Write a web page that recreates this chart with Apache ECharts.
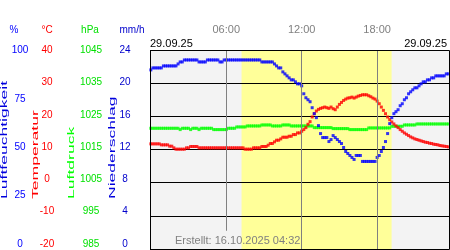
<!DOCTYPE html>
<html><head><meta charset="utf-8">
<script src="https://cdn.jsdelivr.net/npm/echarts@6/dist/echarts.min.js"></script>
<style>html,body{margin:0;padding:0;background:#fff}#c{width:450px;height:250px}</style>
</head><body><div id="c"></div>
<script>
// 10-minute measurements, 29.09.25, 00:00 .. 23:40
const humidity = [90,91,91,91,91,91,92,92,92,92,92,92,92,93,94,94,95,95,95,95,95,95,95,94,94,94,94,95,95,95,95,95,95,94,94,
95,95,95,95,95,95,95,95,95,95,95,95,95,95,95,95,95,95,94,94,94,94,94,94,93,92,91,91,
89,88,87,86,85,85,84,83,83,82,78,76,75,74,71,68,66,62,58,56,56,56,
54,55,57,56,55,54,53,51,49,48,47,46,45,47,47,47,44,44,44,44,44,44,44,
46,47,49,51,54,58,63,66,68,69,70,72,73,75,76,78,79,80,81,81,82,83,84,84,85,85,86,86,87,87,87,87,87,88,88];
const temperature = [11.7,11.7,11.7,11.7,11.7,11.4,11.4,11.4,11.4,11.0,11.0,10.5,10.1,10.1,10.1,10.1,10.1,10.5,10.5,
10.9,10.9,10.9,10.9,10.5,10.5,10.5,10.5,10.5,10.5,10.5,10.5,10.5,10.5,10.5,10.5,10.5,10.5,10.5,10.5,10.5,10.5,10.5,10.5,10.5,10.5,
10.1,10.1,10.1,10.1,10.5,10.5,10.5,10.5,10.9,10.9,10.9,11.3,11.8,11.8,12.3,12.8,12.8,13.2,13.7,13.7,13.7,14.0,14.0,14.5,14.5,15.0,15.0,
15.5,16.0,16.6,17.6,18.4,19.8,20.8,21.6,22.1,22.4,22.6,22.8,22.6,22.4,22.8,22.3,22.0,22.8,23.6,24.2,24.8,25.2,25.5,25.6,25.8,25.5,25.8,26.1,26.3,
26.5,26.5,26.5,26.2,25.9,25.5,25.2,24.6,23.8,22.8,21.8,20.8,19.8,19.0,18.3,17.7,17.1,16.6,16.0,15.5,15.0,14.6,14.2,13.8,13.5,13.2,13.0,
12.8,12.6,12.4,12.2,12.1,11.9,11.8,11.6,11.5,11.4,11.2,11.1,11.0,10.9,10.8];
const pressure = [1021.4,1021.4,1021.4,1021.4,1021.4,1021.4,1021.4,1021.4,1021.4,1021.4,1021.4,1021.4,1021.4,1021.4,
1021.0,1021.4,1021.4,1021.4,1021.4,1021.0,1021.4,1021.4,1021.4,1021.0,1021.4,1021.4,1021.4,1021.4,1021.4,1021.4,
1021.0,1021.0,1021.0,1021.0,1021.0,1021.0,1021.0,1021.4,1021.4,1021.4,1021.4,1021.8,1021.8,1021.8,1021.8,1021.8,
1022.1,1022.1,1022.1,1022.1,1022.1,1022.1,1022.1,1022.4,1022.4,1022.4,1022.4,1022.4,1022.1,1022.1,1022.1,1022.1,1022.1,
1022.4,1022.4,1022.4,1022.4,1022.1,1022.1,1022.1,1022.1,1022.1,1022.1,1022.1,1022.1,1022.1,1022.1,1022.1,
1021.6,1021.6,1021.6,1021.6,1021.6,1021.6,1021.6,1021.6,1021.6,1021.3,1021.3,1021.3,1021.3,1021.3,1021.3,1021.3,1021.3,
1021.0,1021.0,1021.0,1021.0,1021.0,1021.0,1021.0,1021.0,1021.0,1021.5,1021.5,1021.5,1021.5,1021.5,1021.5,1021.5,1021.5,1021.5,1021.5,1021.5,
1022.0,1022.0,1022.0,1022.0,1022.0,1022.0,1022.4,1022.4,1022.4,1022.4,1022.4,1022.4,
1022.7,1022.7,1022.7,1022.7,1022.7,1022.7,1022.7,1022.7,1022.7,1022.7,1022.7,1022.7,1022.7,1022.7,1022.7,1022.7];
const stepMinutes = 10;
const minutes = humidity.map((v, i) => i * stepMinutes);

const humTicks = [0, 25, 50, 75, 100];
const tempTicks = [-20, -10, 0, 10, 20, 30, 40];
const pressTicks = [985, 995, 1005, 1015, 1025, 1035, 1045];
const precipTicks = [0, 4, 8, 12, 16, 20, 24];
const hourMarks = [360, 720, 1080];
const hourLabels = ['06:00', '12:00', '18:00'];
const daylight = [433, 1149];
const dateLabel = '29.09.25';
const createdLabel = 'Erstellt: 16.10.2025 04:32';

const FONT = 'Liberation Sans, Arial, sans-serif';
const xy = arr => arr.map((v, i) => [minutes[i], v]);
const span = t => ({min: t[0], max: t[t.length - 1], interval: t[1] - t[0]});

function labelAxis(t, color, margin) {
  return Object.assign({gridIndex: 1, type: 'value', position: 'left', offset: 0,
    axisLine: {show: false}, axisTick: {show: false}, splitLine: {show: false},
    axisLabel: {color: color, fontSize: 10, fontFamily: FONT, align: 'center', margin: margin,
      formatter: v => String(v)}}, span(t));
}
function txt(x, y, text, color, size, align) {
  return {type: 'text', x: x, y: y, silent: true, z: 50,
    style: {text: text, fill: color, fontSize: size, fontFamily: FONT, align: align || 'center', verticalAlign: 'middle'}};
}
function vtxt(x, text, color) {
  return {type: 'text', x: x, y: 199, rotation: Math.PI / 2, scaleX: 1.95, scaleY: 1, silent: true, z: 50,
    style: {text: text, fill: color, fontSize: 9, fontFamily: FONT, align: 'left', verticalAlign: 'middle'}};
}
const hideAxis = {position: 'left', offset: 0, axisLine: {show: false}, axisTick: {show: false},
  axisLabel: {show: false}, splitLine: {show: false}};

const chart = echarts.init(document.getElementById('c'));
chart.setOption({
  animation: false,
  grid: [
    {left: 150, top: 50, width: 299, height: 199, show: true, backgroundColor: '#f3f3f3', borderWidth: 0},
    {left: 150, top: 50.5, width: 299, height: 193.3, show: false}
  ],
  xAxis: [
    {gridIndex: 0, type: 'value', min: -4, max: 1423, position: 'top',
      axisLine: {show: false}, axisTick: {show: false}, splitLine: {show: false},
      axisLabel: {show: true, customValues: hourMarks, formatter: v => hourLabels[hourMarks.indexOf(v)],
        color: '#808080', fontSize: 11, fontFamily: FONT, margin: 15}},
    {gridIndex: 1, type: 'value', min: 0, max: 1, show: false}
  ],
  yAxis: [
    labelAxis(humTicks, '#0000ff', 130),
    labelAxis(tempTicks, '#ff0000', 103),
    labelAxis(pressTicks, '#00e000', 59),
    labelAxis(precipTicks, '#0000cc', 25),
    Object.assign({gridIndex: 0, type: 'value', position: 'left', offset: 0, z: 1.5,
      axisLine: {show: false}, axisTick: {show: false},
      axisLabel: {show: false}, splitLine: {show: true, lineStyle: {color: '#000', width: 1}}}, span(tempTicks)),
    Object.assign({gridIndex: 0, type: 'value'}, hideAxis, {min: humTicks[0], max: humTicks[humTicks.length - 1]}),
    Object.assign({gridIndex: 0, type: 'value'}, hideAxis, {min: pressTicks[0], max: pressTicks[pressTicks.length - 1]})
  ],
  series: [
    {type: 'line', xAxisIndex: 0, yAxisIndex: 4, data: xy(temperature), showSymbol: false, silent: true,
      lineStyle: {opacity: 0}, z: 1,
      markArea: {silent: true, itemStyle: {color: '#ffff99'}, data: [[{xAxis: daylight[0]}, {xAxis: daylight[1]}]]}},
    {name: 'Luftdruck', type: 'scatter', xAxisIndex: 0, yAxisIndex: 6, data: xy(pressure), symbol: 'rect',
      symbolSize: 3, itemStyle: {color: '#00ff00'}, z: 2, silent: true},
    {name: 'Temperatur', type: 'scatter', xAxisIndex: 0, yAxisIndex: 4, data: xy(temperature), symbol: 'rect',
      symbolSize: 3, itemStyle: {color: '#ff0000'}, z: 2, silent: true},
    {name: 'Luftfeuchtigkeit', type: 'scatter', xAxisIndex: 0, yAxisIndex: 5, data: xy(humidity), symbol: 'rect',
      symbolSize: 3, itemStyle: {color: '#0000ff'}, z: 2, silent: true},
    {type: 'line', xAxisIndex: 0, yAxisIndex: 4, data: xy(temperature), showSymbol: false, silent: true,
      lineStyle: {opacity: 0}, z: 3,
      markLine: {silent: true, symbol: 'none', label: {show: false},
        lineStyle: {color: '#808080', width: 1, type: 'solid'},
        data: [
          [{coord: [hourMarks[0], -14.5]}, {coord: [hourMarks[0], 40]}],
          [{coord: [hourMarks[1], -20]}, {coord: [hourMarks[1], 40]}],
          [{coord: [hourMarks[2], -20]}, {coord: [hourMarks[2], 40]}]
        ]}}
  ],
  graphic: [
    txt(14, 30, '%', '#0000ff', 10),
    txt(47, 30, '°C', '#ff0000', 10),
    txt(90, 30, 'hPa', '#00e000', 10),
    txt(132, 30, 'mm/h', '#0000cc', 10),
    txt(150, 43.5, dateLabel, '#000', 11, 'left'),
    txt(447, 43.5, dateLabel, '#000', 11, 'right'),
    txt(175, 241, createdLabel, '#808080', 11, 'left'),
    vtxt(5, 'Luftfeuchtigkeit', '#0000dd'),
    vtxt(35.5, 'Temperatur', '#ff0000'),
    vtxt(72, 'Luftdruck', '#00ff00'),
    vtxt(113, 'Niederschlag', '#0000dd'),
    {type: 'rect', silent: true, z: 100, shape: {x: 150.5, y: 50.5, width: 299, height: 199},
      style: {fill: 'transparent', stroke: '#000', lineWidth: 1}}
  ]
});
</script></body></html>
